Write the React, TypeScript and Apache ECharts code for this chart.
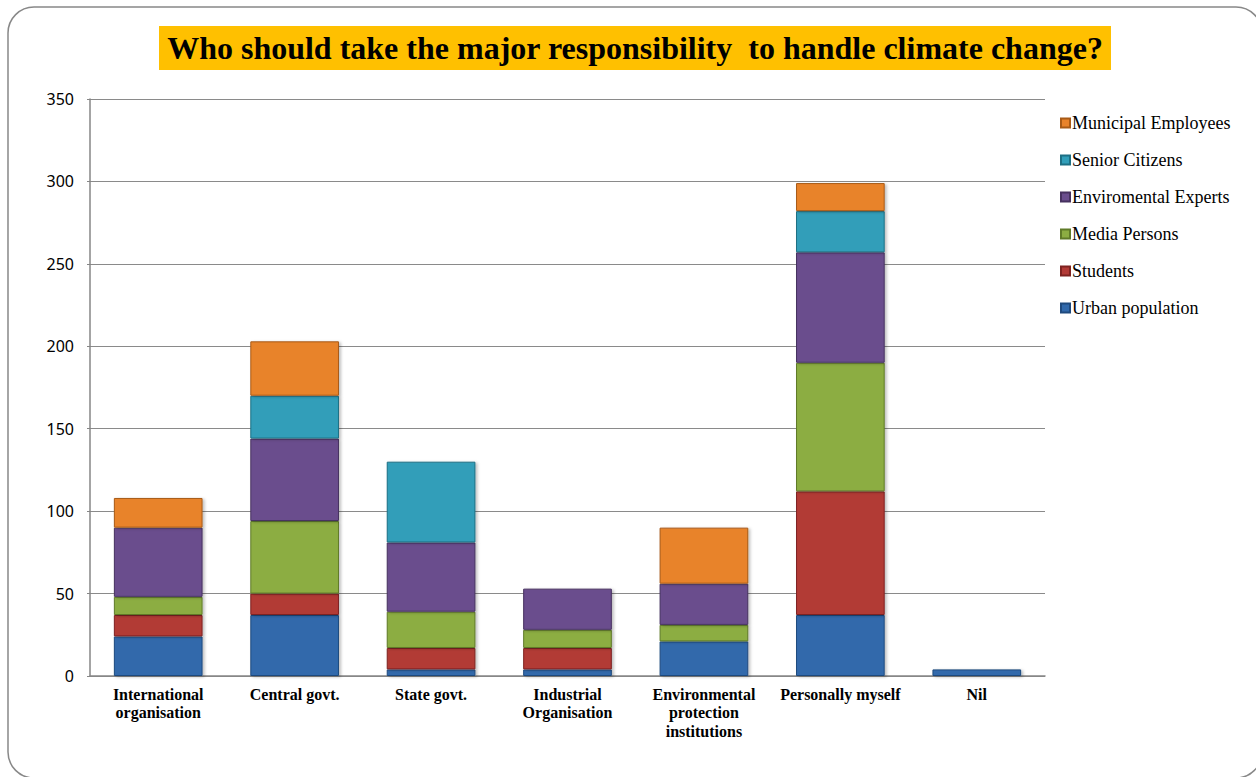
import React, { useEffect, useRef } from "react";
import * as echarts from "echarts";

const categories = [
  "International\norganisation",
  "Central govt.",
  "State govt.",
  "Industrial\nOrganisation",
  "Environmental\nprotection\ninstitutions",
  "Personally myself",
  "Nil",
];

const urbanPopulation = [24, 37, 4, 4, 21, 37, 4];
const students = [13, 13, 13, 13, 0, 75, 0];
const mediaPersons = [11, 44, 22, 11, 10, 78, 0];
const enviromentalExperts = [42, 50, 42, 25, 25, 67, 0];
const seniorCitizens = [0, 26, 49, 0, 0, 25, 0];
const municipalEmployees = [18, 33, 0, 0, 34, 17, 0];

const yTicks = { min: 0, max: 350, interval: 50 };

const seriesDefs = [
  { name: "Urban population", data: urbanPopulation, color: "#3169AB", border: "#1F4A7E" },
  { name: "Students", data: students, color: "#B23A36", border: "#7E2321" },
  { name: "Media Persons", data: mediaPersons, color: "#8CAD42", border: "#5F7A28" },
  { name: "Enviromental Experts", data: enviromentalExperts, color: "#6A4D8D", border: "#46315F" },
  { name: "Senior Citizens", data: seniorCitizens, color: "#319EB9", border: "#1D6F84" },
  { name: "Municipal Employees", data: municipalEmployees, color: "#E8832B", border: "#A85A16" },
];

const TITLE = "Who should take the major responsibility  to handle climate change?";

export default function App() {
  const ref = useRef<HTMLDivElement>(null);

  useEffect(() => {
    if (!ref.current) return;
    const chart = echarts.init(ref.current, null, { renderer: "svg" });
    const serif = "'Liberation Serif', 'Times New Roman', serif";

    const option = {
      animation: false,
      backgroundColor: "#ffffff",
      graphic: [
        {
          type: "rect",
          shape: { x: 8, y: 7, width: 1254, height: 771, r: 26 },
          style: { fill: "none", stroke: "#888888", lineWidth: 1.5 },
          z: 0,
        },
        {
          type: "rect",
          shape: { x: 159, y: 26, width: 952, height: 44 },
          style: { fill: "#FFC000" },
          z: 1,
        },
        {
          type: "text",
          x: 635,
          y: 48,
          style: {
            text: TITLE,
            fill: "#000000",
            font: `bold 32px ${serif}`,
            align: "center",
            verticalAlign: "middle",
          },
          z: 2,
        },
      ],
      legend: {
        orient: "vertical",
        left: 1055,
        top: 109,
        itemWidth: 9,
        itemHeight: 9,
        itemGap: 19,
        icon: "rect",
        data: seriesDefs.map((s) => s.name).reverse(),
        textStyle: { fontFamily: serif, fontSize: 18, color: "#000", padding: [0, 0, 0, -3] },
      },
      grid: { left: 90, right: 211, top: 99, bottom: 101, containLabel: false },
      xAxis: {
        type: "category",
        data: categories,
        axisLine: { show: true, lineStyle: { color: "#868686", width: 1.5 } },
        axisTick: { show: false },
        axisLabel: {
          interval: 0,
          margin: 9,
          color: "#000",
          fontFamily: serif,
          fontWeight: "bold",
          fontSize: 16,
          lineHeight: 18.5,
        },
      },
      yAxis: {
        type: "value",
        min: yTicks.min,
        max: yTicks.max,
        interval: yTicks.interval,
        axisLine: { show: true, lineStyle: { color: "#868686", width: 1.5 } },
        axisTick: { show: true, length: 3, lineStyle: { color: "#868686" } },
        splitLine: { show: true, lineStyle: { color: "#8a8a8a", width: 1.2 } },
        axisLabel: {
          margin: 16,
          color: "#000",
          fontFamily: "'Noto Sans', sans-serif",
          fontSize: 16,
        },
      },
      series: seriesDefs.map((s) => ({
        name: s.name,
        type: "bar",
        stack: "total",
        barWidth: "65%",
        data: s.data.map((v) => (v === 0 ? null : v)),
        itemStyle: {
          color: s.color,
          borderColor: s.border,
          borderWidth: 1,
          shadowColor: "rgba(0,0,0,0.25)",
          shadowBlur: 3,
          shadowOffsetX: 2,
          shadowOffsetY: 1,
        },
        emphasis: { disabled: true },
      })),
    };

    chart.setOption(option as any);
    return () => chart.dispose();
  }, []);

  return (
    <div
      ref={ref}
      style={{ position: "fixed", left: 0, top: 0, width: 1256, height: 777 }}
    />
  );
}
